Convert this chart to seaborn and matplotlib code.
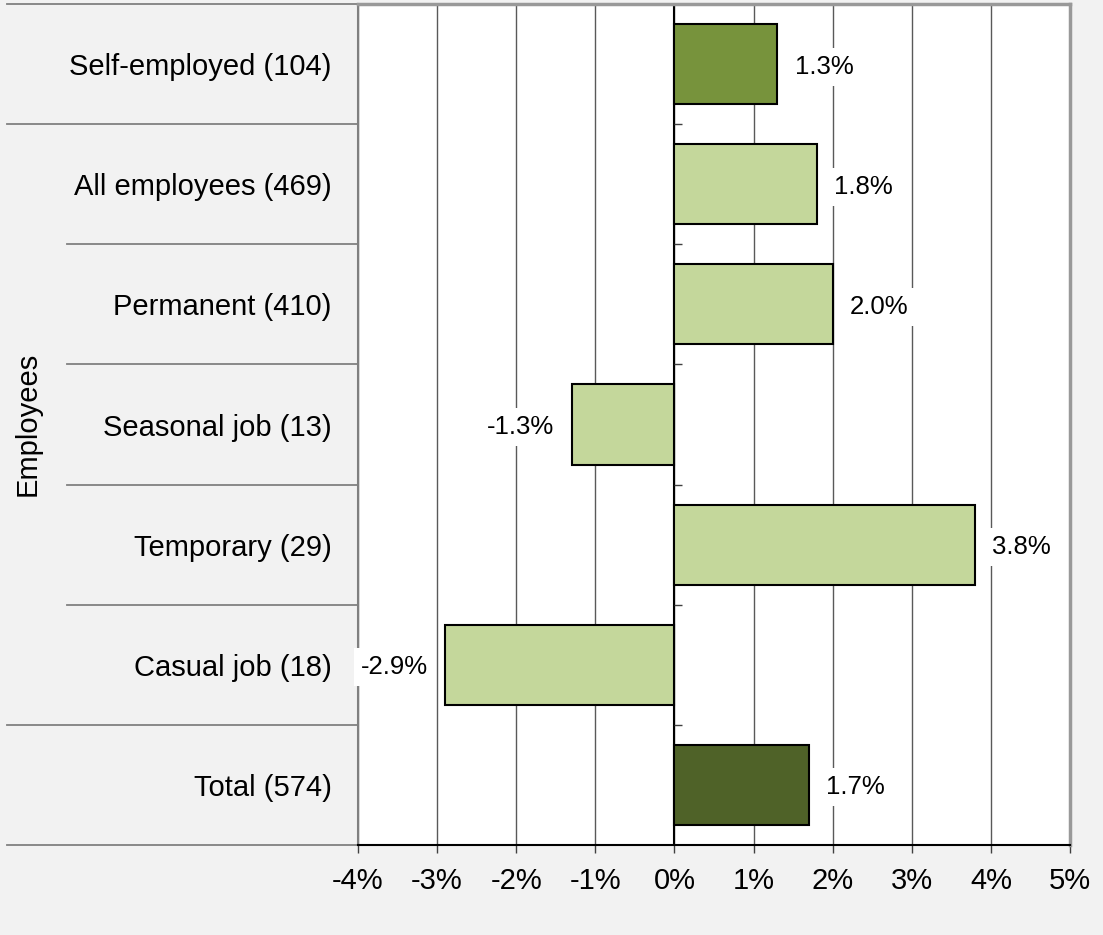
import matplotlib
matplotlib.use("Agg")
import matplotlib.pyplot as plt
import matplotlib.transforms as mtransforms
import seaborn as sns
import pandas as pd

# Chart data
categories = ["Self-employed (104)", "All employees (469)", "Permanent (410)",
              "Seasonal job (13)", "Temporary (29)", "Casual job (18)", "Total (574)"]
values = [1.3, 1.8, 2.0, -1.3, 3.8, -2.9, 1.7]
groups = ["Self-employed", "Employees", "Employees", "Employees",
          "Employees", "Employees", "Total"]
group_colors = {"Self-employed": "#77933c", "Employees": "#c4d79b", "Total": "#4f6228"}
x_ticks = [-4, -3, -2, -1, 0, 1, 2, 3, 4, 5]
x_tick_labels = [f"{t}%" for t in x_ticks]
group_label = "Employees"

df = pd.DataFrame({"category": categories, "value": values, "group": groups})

plt.rcParams["font.family"] = ["Liberation Sans", "DejaVu Sans"]

W, H, DPI = 1103, 935, 100
fig = plt.figure(figsize=(W / DPI, H / DPI), dpi=DPI, facecolor="#f2f2f2")
ax_l, ax_r, ax_t, ax_b = 358, 1070, 4, 845
ax = fig.add_axes([ax_l / W, (H - ax_b) / H, (ax_r - ax_l) / W, (ax_b - ax_t) / H])
ax.set_facecolor("white")

sns.barplot(data=df, x="value", y="category", hue="group", palette=group_colors,
            order=categories, hue_order=list(group_colors), dodge=False,
            orient="h", width=2 / 3, edgecolor="black", linewidth=1.5,
            saturation=1, legend=False, ax=ax, zorder=3)

ax.set_xlim(-4, 5)
ax.set_ylim(len(categories) - 0.5, -0.5)

# Gridlines and zero line
ax.set_axisbelow(True)
ax.grid(axis="x", color="#595959", linewidth=1)
ax.grid(axis="y", visible=False)
ax.axvline(0, color="black", linewidth=1.5, zorder=2)
bounds = [i + 0.5 for i in range(len(categories) - 1)]
ax.hlines(bounds, 0, 0.1, color="#404040", linewidth=1, zorder=2)

# Axes ticks
ax.set_xticks(x_ticks)
ax.set_xticklabels(x_tick_labels, fontsize=21)
ax.tick_params(axis="x", direction="out", length=6, width=1, color="#404040", pad=10)
ax.set_yticks(range(len(categories)))
ax.set_yticklabels(categories, fontsize=21)
ax.tick_params(axis="y", length=0, pad=19)
ax.set_xlabel("")
ax.set_ylabel("")

for side in ("top", "right"):
    ax.spines[side].set_color("#999999")
    ax.spines[side].set_linewidth(2.5)
ax.spines["left"].set_color("#808080")
ax.spines["left"].set_linewidth(1.5)
ax.spines["bottom"].set_color("black")
ax.spines["bottom"].set_linewidth(1.5)

# Value labels
for cont in ax.containers:
    labels = ax.bar_label(cont, fmt=lambda v: f"{v:.1f}%", padding=12.5, fontsize=18.5,
                          bbox=dict(facecolor="white", edgecolor="none", pad=5), zorder=4)
    for lbl in labels:
        lbl.set_va("center_baseline")

# Category separators in the label area
trans = mtransforms.blended_transform_factory(ax.transAxes, ax.transData)
x_outer = (7 - ax_l) / (ax_r - ax_l)
x_inner = (67 - ax_l) / (ax_r - ax_l)
edges = [-0.5, 0.5, 5.5, len(categories) - 0.5]
for y in [i - 0.5 for i in range(len(categories) + 1)]:
    x0 = x_outer if y in edges else x_inner
    ax.plot([x0, 0], [y, y], color="#808080", linewidth=1.3, transform=trans,
            clip_on=False)

# Group label for the employee rows
fig.text(28 / W, 1 - 424 / H, group_label, rotation=90, fontsize=21,
         ha="center", va="center")

fig.savefig("out.png", dpi=DPI, facecolor=fig.get_facecolor())
